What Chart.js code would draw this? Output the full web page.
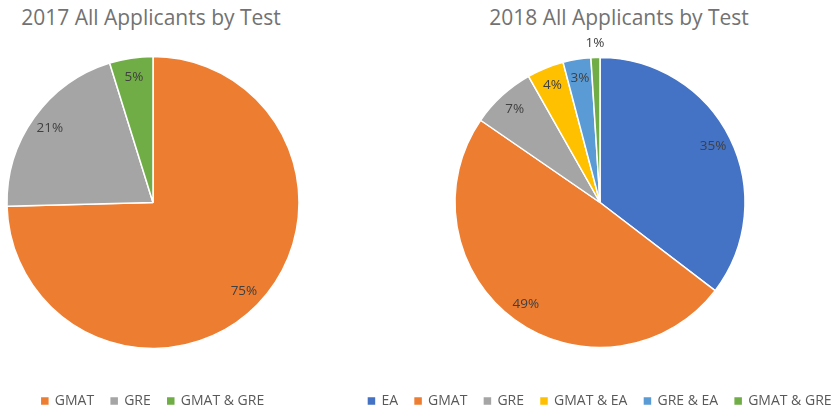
<!DOCTYPE html>
<html>
<head>
<meta charset="utf-8">
<script src="https://cdn.jsdelivr.net/npm/chart.js@4"></script>
<style>
  html, body { margin: 0; padding: 0; background: #fff; }
  body { position: relative; width: 839px; height: 412px; overflow: hidden; }
  .title { position: absolute; top: 0; width: 400px; font-family: "Open Sans"; font-size: 21px;
           color: #727272; text-align: center; line-height: 35px; white-space: nowrap; }
  .box { position: absolute; top: 0; height: 420px; }
</style>
</head>
<body>
<div class="title" style="left:-49px">2017 All Applicants by Test</div>
<div class="title" style="left:419px">2018 All Applicants by Test</div>
<div class="box" style="left:0;width:306px"><canvas id="chart2017"></canvas></div>
<div class="box" style="left:345px;width:510px"><canvas id="chart2018"></canvas></div>
<script>
// 2017 data
const labels2017 = ["GMAT", "GRE", "GMAT & GRE"];
const values2017 = [74.6, 20.6, 4.8];
const colors2017 = ["#ED7D31", "#A5A5A5", "#70AD47"];

// 2018 data
const labels2018 = ["EA", "GMAT", "GRE", "GMAT & EA", "GRE & EA", "GMAT & GRE"];
const values2018 = [35.4, 49.2, 7.2, 4.1, 3.1, 1.0];
const colors2018 = ["#4472C4", "#ED7D31", "#A5A5A5", "#FFC000", "#5B9BD5", "#70AD47"];

// percent labels on the slices (small ones go outside)
const pctLabels = {
  id: "pctLabels",
  afterDatasetsDraw(chart) {
    const ctx = chart.ctx;
    const meta = chart.getDatasetMeta(0);
    const values = chart.data.datasets[0].data;
    const total = values.reduce((a, b) => a + b, 0);
    ctx.save();
    ctx.font = "13.5px 'Open Sans'";
    ctx.fillStyle = "#404040";
    ctx.textAlign = "center";
    ctx.textBaseline = "middle";
    meta.data.forEach((arc, i) => {
      const p = arc.getProps(["x", "y", "startAngle", "endAngle", "outerRadius"], true);
      const mid = (p.startAngle + p.endAngle) / 2;
      const pct = values[i] / total * 100;
      const r = pct < 2 ? p.outerRadius + 14 : p.outerRadius * 0.87;
      ctx.fillText(Math.round(pct) + "%", p.x + Math.cos(mid) * r, p.y + Math.sin(mid) * r);
    });
    ctx.restore();
  }
};

function makePie(id, labels, values, colors, radius, padding) {
  new Chart(document.getElementById(id), {
    type: "pie",
    data: {
      labels: labels,
      datasets: [{
        data: values,
        backgroundColor: colors,
        borderColor: "#ffffff",
        borderWidth: 1.5
      }]
    },
    options: {
      responsive: true,
      maintainAspectRatio: false,
      animation: false,
      devicePixelRatio: 1,
      radius: radius,
      layout: { padding: padding },
      plugins: {
        tooltip: { enabled: false },
        legend: {
          position: "bottom",
          labels: {
            boxWidth: 6,
            boxHeight: 6,
            padding: 17,
            color: "#595959",
            font: { family: "'Open Sans'", size: 14 },
            generateLabels(chart) {
              return Chart.overrides.pie.plugins.legend.labels.generateLabels(chart)
                .map(l => ({ ...l, strokeStyle: l.fillStyle }));
            }
          }
        }
      }
    },
    plugins: [pctLabels]
  });
}

makePie("chart2017", labels2017, values2017, colors2017, 146, { top: 28, bottom: 2, left: 7, right: 7 });
makePie("chart2018", labels2018, values2018, colors2018, 145, { top: 28, bottom: 2, left: 0, right: 0 });
</script>
</body>
</html>
